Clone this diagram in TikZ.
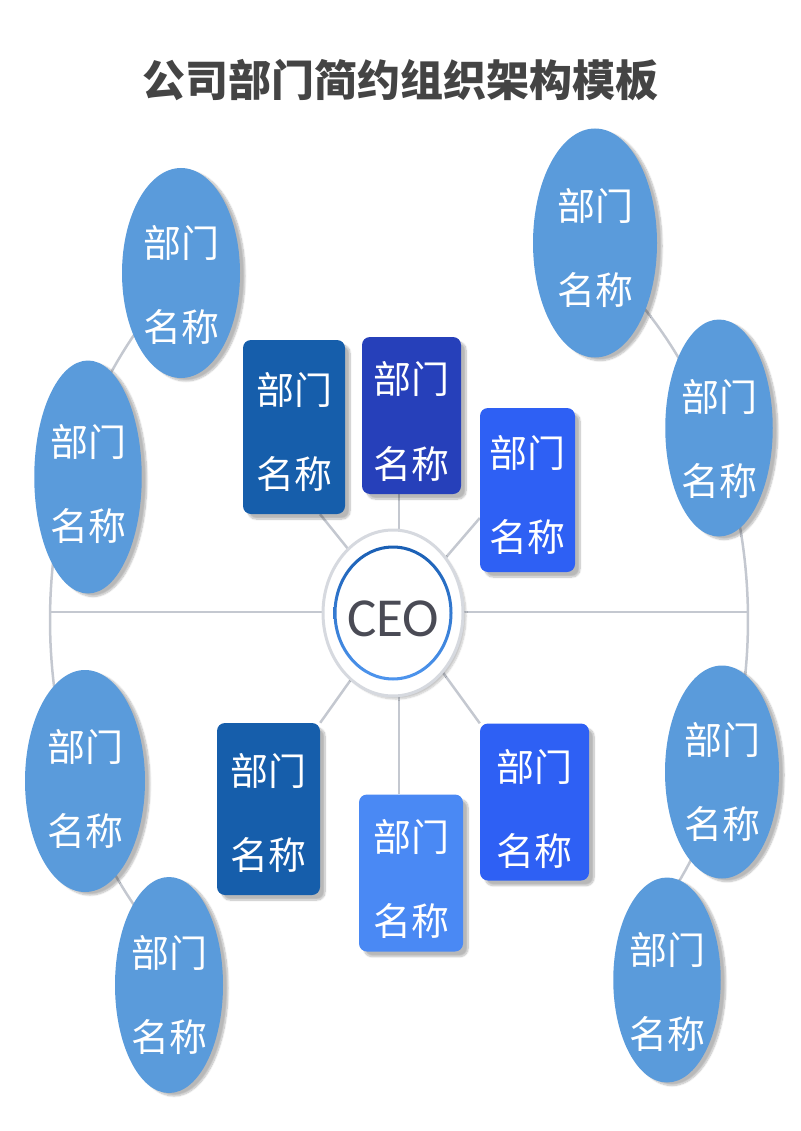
\documentclass[tikz,border=0pt]{standalone}
\usepackage{fontspec}
\newfontfamily\cjk{Noto Sans CJK SC}
\newfontfamily\calib{Carlito}
\usetikzlibrary{shapes.geometric,shadows.blur}
\definecolor{ellc}{HTML}{5A9BDB}
\definecolor{boxa}{HTML}{165EAB}
\definecolor{boxb}{HTML}{2640BA}
\definecolor{boxc}{HTML}{2E60F4}
\definecolor{boxe}{HTML}{4A89F4}
\definecolor{linec}{HTML}{C4C8D0}
\definecolor{titlec}{HTML}{444444}
\definecolor{ceotext}{HTML}{4A4B55}
\definecolor{ceoring}{HTML}{D6D9DF}
\definecolor{ringtop}{HTML}{1A5FB4}
\definecolor{ringbot}{HTML}{4E95EE}
\newcommand\deptname[1]{\raisebox{-#1}[\height][\depth]{部门}\\\raisebox{-#1}[\height][\depth]{名称}}
\pgfdeclarelayer{bg}
\pgfsetlayers{bg,main}
\tikzset{
  dept/.style={ellipse, fill=ellc, text=white, inner sep=0pt, align=center,
    font=\cjk\fontsize{38}{84}\selectfont,
    blur shadow={shadow xshift=5pt, shadow yshift=-3pt, shadow blur steps=10, shadow opacity=28}},
  deptbox/.style={rectangle, rounded corners=8pt, text=white, inner sep=0pt, align=center,
    font=\cjk\fontsize{38}{84}\selectfont,
    blur shadow={shadow xshift=5pt, shadow yshift=-5pt, shadow blur steps=10, shadow opacity=28}},
  link/.style={draw=linec, line width=2.5pt},
}
\begin{document}
\begin{tikzpicture}[x=1pt,y=-1pt]
\useasboundingbox (0,0) rectangle (800,1131);

\node[font=\cjk\bfseries\fontsize{43}{43}\selectfont, text=titlec] (title) at (400,80) {公司部门简约组织架构模板};

% outer ellipses
\node[dept, minimum width=118pt, minimum height=210pt] (e1) at (181,273) {\deptname{12pt}};
\node[dept, minimum width=104pt, minimum height=233pt] (e2) at (88,477) {\deptname{7pt}};
\node[dept, minimum width=124pt, minimum height=229pt] (e3) at (595,243) {\deptname{5pt}};
\node[dept, minimum width=106pt, minimum height=217pt] (e4) at (719,428) {\deptname{11pt}};
\node[dept, minimum width=120pt, minimum height=222pt] (e5) at (85,781) {\deptname{8pt}};
\node[dept, minimum width=108pt, minimum height=216pt] (e6) at (169,985) {\deptname{10pt}};
\node[dept, minimum width=114pt, minimum height=213pt] (e7) at (722,772) {\deptname{10pt}};
\node[dept, minimum width=104pt, minimum height=205pt] (e8) at (667,980) {\deptname{12pt}};

% inner boxes
\node[deptbox, fill=boxa, minimum width=102pt, minimum height=174pt] (A) at (294,427) {\deptname{5pt}};
\node[deptbox, fill=boxb, minimum width=99pt, minimum height=157pt] (B) at (411.5,415.5) {\deptname{6pt}};
\node[deptbox, fill=boxc, minimum width=95pt, minimum height=164pt] (C) at (527.5,490) {\deptname{5pt}};
\node[deptbox, fill=boxa, minimum width=103pt, minimum height=172pt] (D) at (268.5,809) {\deptname{4pt}};
\node[deptbox, fill=boxe, minimum width=104pt, minimum height=157pt] (E) at (411,873) {\deptname{6pt}};
\node[deptbox, fill=boxc, minimum width=109pt, minimum height=157pt] (F) at (534.5,802) {\deptname{7pt}};

% CEO
\node[ellipse, fill=white, draw=ceoring, line width=3pt, minimum width=140pt, minimum height=166pt,
  inner sep=0pt, text=ceotext, font=\calib\fontsize{55}{55}\selectfont, text height=47pt, text depth=0pt,
  blur shadow={shadow xshift=3pt, shadow yshift=-3pt, shadow blur steps=8, shadow opacity=22}]
  (ceo) at (393,613) {CEO};
\shade[top color=ringtop, bottom color=ringbot, even odd rule]
  (ceo.center) ellipse [x radius=59.5pt, y radius=67.5pt]
  (ceo.center) ellipse [x radius=56.5pt, y radius=64.5pt];

\begin{pgfonlayer}{bg}
  \coordinate (hub) at (399,612);
  \coordinate (L) at (50,612);
  \coordinate (R) at (748,612);
  \draw[link] (L) -- (R);
  \draw[link] plot[domain=127:233, samples=90] ({399+349*cos(\x)},{620-438*sin(\x)});
  \draw[link] plot[domain=-48:58, samples=90] ({399+349*cos(\x)},{620-438*sin(\x)});
  \draw[link] (hub) -- ([xshift=26pt]A.south);
  \draw[link] (hub) -- (B.south -| hub);
  \draw[link] (hub) -- ([yshift=-28pt]C.west);
  \draw[link] (hub) -- (D.north east);
  \draw[link] (hub) -- (E.north -| hub);
  \draw[link] (hub) -- (F.north west);
\end{pgfonlayer}
\end{tikzpicture}
\end{document}
